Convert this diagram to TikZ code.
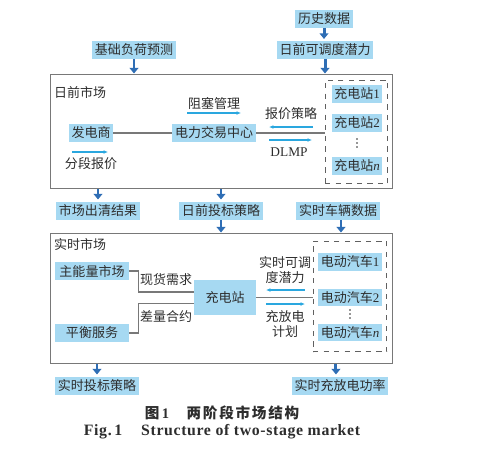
\documentclass[tikz,border=0pt]{standalone}
\usepackage{fontspec}
\setmainfont{Liberation Serif}
\newfontfamily\cjk{Noto Sans CJK SC}
\newfontfamily\cjkcap[LetterSpace=12]{Noto Sans CJK SC}
\newfontfamily\engcap[LetterSpace=4]{Liberation Serif}
\usepackage{tikz}
\usetikzlibrary{positioning, arrows, arrows.meta}

\definecolor{boxfill}{RGB}{166,217,242}
\definecolor{bigarrow}{RGB}{47,110,181}
\definecolor{thinarrow}{RGB}{42,167,223}
\definecolor{framegray}{RGB}{120,120,120}
\definecolor{txt}{RGB}{45,45,45}

\newcommand{\ital}[1]{\textrm{\itshape #1}}

\tikzset{
  lbl/.style={font=\cjk\fontsize{7.4}{9}\selectfont, text=txt, inner sep=0.5pt},
  bbox/.style={lbl, fill=boxfill, inner xsep=1.5pt, minimum height=9.8pt},
  frame/.style={draw=framegray, line width=0.8pt},
  group/.style={draw=framegray!80!black, dashed, line width=0.6pt},
  link/.style={draw=framegray, line width=0.7pt},
  bigarr/.style={-{Triangle[length=3.2pt, width=5pt]}, draw=bigarrow, line width=1.7pt},
  flow/.style={-{Latex[length=2.5pt, width=2.2pt]}, draw=thinarrow, line width=0.6pt},
  dotmark/.style={fill=txt}
}

\begin{document}
\begin{tikzpicture}[x=0.02cm, y=-0.02cm]
\useasboundingbox (0,0) rectangle (499,460);

% inputs
\node[bbox] (hist) at (324,19) {历史数据};
\node[bbox] (potDA) at (325,50) {日前可调度潜力};
\node[bbox] (loadF) at (134,50) {基础负荷预测};
\draw[bigarr] (hist.south) -- ++(0,11);

% day-ahead market
\node[frame, minimum width=194.5pt, minimum height=65.2pt] (da) at (221.5,131.5) {};
\node[lbl, anchor=west] (daLabel) at (53,92) {日前市场};
\draw[bigarr] (loadF.south) -- (loadF.south |- da.north);
\draw[bigarr] (potDA.south) -- (potDA.south |- da.north);

\node[group, minimum width=35.7pt, minimum height=59pt] (csGroup) at (356.5,132) {};
\node[bbox, minimum width=27.8pt] (cs1) at (357,94) {充电站\textrm{1}};
\node[bbox, minimum width=27.8pt] (cs2) at (357,123) {充电站\textrm{2}};
\coordinate (csDots) at (357,143);
\foreach \d in {-4,0,4}
  \fill[dotmark] (csDots) ++(0,\d) circle (0.5pt);
\node[bbox, minimum width=27.8pt] (csn) at (357,166) {充电站\ital{n}};

\node[bbox] (gen) at (91,133) {发电商};
\node[bbox] (ptc) at (214,133) {电力交易中心};
\draw[link] (gen) -- (ptc);
\draw[link] (ptc.east) -- (ptc.east -| csGroup.west);

\node[lbl] (congLabel) at (214,104) {阻塞管理};
\draw[flow] (187,113) -- (241,113);
\node[lbl] (bidLabel) at (291,114) {报价策略};
\draw[flow] (313,127) -- (269,127);
\draw[flow] (269,140) -- (312,140);
\node[lbl, font=\fontsize{7.6}{9}\selectfont] (dlmpLabel) at (289,152) {DLMP};
\draw[flow] (72,152) -- (108,152);
\node[lbl] (segLabel) at (91,164) {分段报价};

% day-ahead outputs
\node[bbox] (mcr) at (98,211) {市场出清结果};
\node[bbox] (dabid) at (221,211) {日前投标策略};
\node[bbox] (evdata) at (338,211) {实时车辆数据};
\draw[bigarr] (mcr.north |- da.south) -- ++(0,10);
\draw[bigarr] (dabid.north |- da.south) -- ++(0,10);

% real-time market
\node[frame, minimum width=194.5pt, minimum height=74.3pt] (rt) at (221.5,298.5) {};
\node[lbl, anchor=west] (rtLabel) at (53,244) {实时市场};
\draw[bigarr] (dabid.south) -- (dabid.south |- rt.north);
\draw[bigarr] ([xshift=1.7pt]evdata.south) -- ([xshift=1.7pt]evdata.south |- rt.north);

\node[group, minimum width=42pt, minimum height=63pt] (evGroup) at (350,296.5) {};
\node[bbox, minimum width=35.7pt] (ev1) at (350,262) {电动汽车\textrm{1}};
\node[bbox, minimum width=35.7pt] (ev2) at (350,297.5) {电动汽车\textrm{2}};
\coordinate (evDots) at (350,314);
\foreach \d in {-4,0,4}
  \fill[dotmark] (evDots) ++(0,\d) circle (0.5pt);
\node[bbox, minimum width=35.7pt] (evn) at (350,332.5) {电动汽车\ital{n}};

\node[bbox, minimum width=42pt] (mem) at (92,271) {主能量市场};
\node[bbox, minimum width=42pt] (bal) at (92,333) {平衡服务};
\node[bbox, minimum width=35pt, minimum height=20pt] (cs) at (225,297.5) {充电站};
\draw[link] (mem.east) -- ++(9,0) |- ([yshift=3.2pt]cs.west);
\draw[link] (bal.east) -- ++(9,0) |- ([yshift=-3.6pt]cs.west);
\draw[link] (cs.east) -- (cs.east -| evGroup.west);

\node[lbl] (spotLabel) at (166,280) {现货需求};
\node[lbl] (diffLabel) at (166,317) {差量合约};
\node[lbl, align=center] (potRT) at (285,270) {实时可调\\度潜力};
\draw[flow] (305,290) -- (266,290);
\draw[flow] (266,304) -- (305,304);
\node[lbl, align=center] (planLabel) at (285,324) {充放电\\计划};

% real-time outputs
\node[bbox] (rtbid) at (97,386) {实时投标策略};
\node[bbox] (rtpow) at (340,386) {实时充放电功率};
\draw[bigarr] (rtbid.north |- rt.south) -- ++(0,10);
\draw[bigarr] ([xshift=-2.3pt]rtpow.north |- rt.south) -- ++(0,10);

% caption
\node[lbl, font=\cjkcap\bfseries\fontsize{8.3}{10}\selectfont] (capCN) at (222,413) {图\,\textrm{\bfseries 1}\hspace{1.2em}两阶段市场结构};
\node[lbl, font=\engcap\bfseries\fontsize{9}{10}\selectfont] (capEN) at (222,432) {Fig.\,1\hspace{1.2em}Structure of two-stage market};
\end{tikzpicture}
\end{document}
